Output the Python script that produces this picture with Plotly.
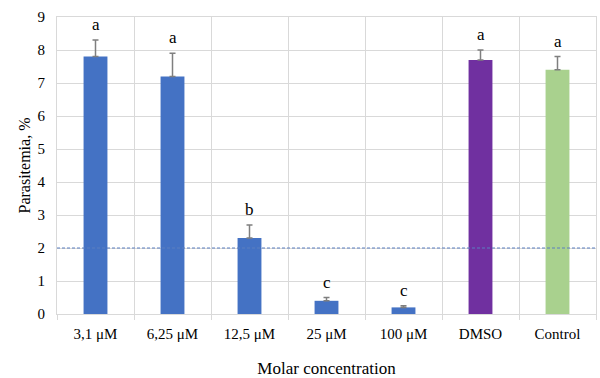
import plotly.graph_objects as go

categories = ["3,1 μM", "6,25 μM", "12,5 μM", "25 μM", "100 μM", "DMSO", "Control"]
values = [7.8, 7.2, 2.3, 0.4, 0.2, 7.7, 7.4]
errors = [0.5, 0.7, 0.4, 0.1, 0.05, 0.3, 0.4]
letters = ["a", "a", "b", "c", "c", "a", "a"]
colors = ["#4472C4", "#4472C4", "#4472C4", "#4472C4", "#4472C4", "#7030A0", "#A9D18E"]
threshold = 2

font = "Liberation Serif, Times New Roman, serif"

fig = go.Figure()
fig.add_trace(go.Bar(
    x=categories, y=values, marker=dict(color=colors, line=dict(width=0)),
    width=0.31,
    error_y=dict(type="data", symmetric=False, array=errors, arrayminus=[0]*len(errors),
                 color="#7f7f7f", thickness=1.5, width=3),
    showlegend=False,
))

for c, v, e, l in zip(categories, values, errors, letters):
    fig.add_annotation(x=c, y=v + e, text=l, showarrow=False, yanchor="bottom", yshift=4,
                       font=dict(family=font, size=17, color="black"))

fig.add_hline(y=threshold, line=dict(color="#5b7fc0", width=1, dash="3px,2px"))

fig.update_layout(
    width=600, height=378,
    margin=dict(l=57, r=4, t=17, b=64),
    plot_bgcolor="white", paper_bgcolor="white",
    font=dict(family=font, size=14, color="black"),
)
fig.update_xaxes(
    type="category", tickson="boundaries", showgrid=True, gridcolor="#d9d9d9", gridwidth=1,
    showline=True, linecolor="#d9d9d9", linewidth=1, mirror=True, automargin=False,
    ticks="outside", ticklen=5, tickcolor="#d9d9d9", ticklabelstandoff=6,
    title=dict(text="Molar concentration", font=dict(family=font, size=17), standoff=22),
    tickfont=dict(family=font, size=15),
)
fig.update_yaxes(
    range=[0, 9], dtick=1, showgrid=True, gridcolor="#d9d9d9", gridwidth=1,
    showline=True, linecolor="#d9d9d9", linewidth=1, mirror=True, zeroline=False,
    ticklabelstandoff=8, automargin=False,
    title=dict(text="Parasitemia, %", font=dict(family=font, size=16), standoff=2),
    tickfont=dict(family=font, size=15),
)

fig.write_html("out.html", config={"displayModeBar": False},
               post_script="document.body.style.margin='0';")
